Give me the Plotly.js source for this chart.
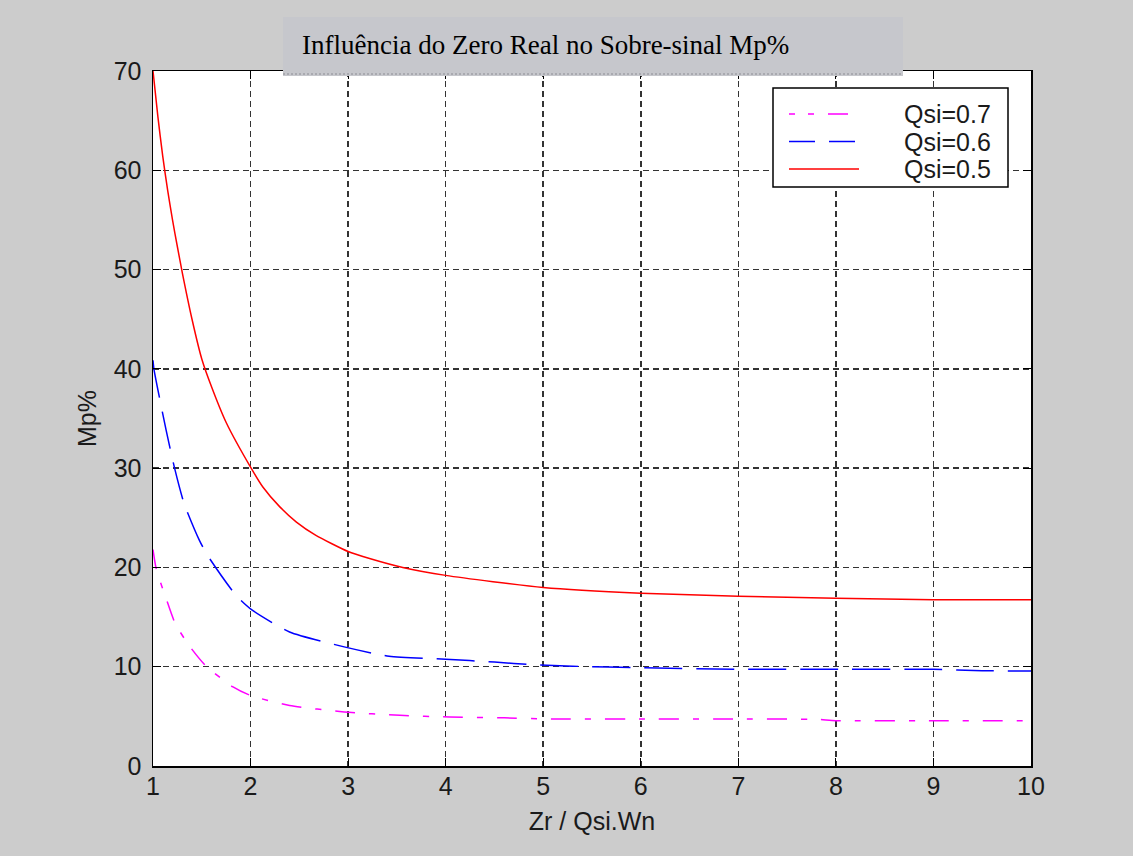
<!DOCTYPE html>
<html>
<head>
<meta charset="utf-8">
<script src="https://cdn.plot.ly/plotly-3.0.1.min.js"></script>
<style>html,body{margin:0;padding:0;background:#cccccc;}#chart{width:1133px;height:856px;}</style>
</head>
<body>
<div id="chart"></div>
<script>
// ---- data ----
const seriesNames = ["Qsi=0.7", "Qsi=0.6", "Qsi=0.5"];

const xQ07 = [1, 1.03, 1.08, 1.13, 1.23, 1.38, 1.54, 1.82, 2.0, 2.4, 2.96, 3.53, 4.04, 4.6, 5, 6, 7, 7.8, 8, 9, 10];
const yQ07 = [21.8, 20.0, 18.4, 17.0, 14.3, 12.0, 10.1, 7.96, 7.1, 6.1, 5.44, 5.1, 4.93, 4.85, 4.75, 4.73, 4.73, 4.7, 4.57, 4.57, 4.57];

const xQ06 = [1, 1.01, 1.135, 1.22, 1.32, 1.477, 1.56, 1.85, 2.01, 2.4, 2.96, 3.42, 4.0, 4.5, 4.9, 5.3, 6, 7, 8, 9, 9.5, 10];
const yQ06 = [40.86, 39.95, 33.8, 30.05, 26.4, 22.7, 21.2, 17.2, 15.75, 13.5, 12.0, 11.05, 10.75, 10.47, 10.2, 10.05, 9.9, 9.74, 9.74, 9.74, 9.6, 9.57];

const xQ05 = [1, 1.05, 1.1, 1.15, 1.2, 1.25, 1.3, 1.4, 1.5, 1.6, 1.75, 2.0, 2.126, 2.3, 2.47, 2.67, 3.0, 3.22, 3.56, 4, 5, 6, 7, 8, 9, 10];
const yQ05 = [70, 65.4, 61.4, 58.0, 55.0, 52.3, 49.7, 45.0, 41.0, 38.2, 34.6, 30.1, 28.1, 26.1, 24.57, 23.23, 21.6, 20.9, 20.0, 19.2, 17.97, 17.4, 17.1, 16.9, 16.75, 16.75];

const xTicks = [1, 2, 3, 4, 5, 6, 7, 8, 9, 10];
const yTicks = [0, 10, 20, 30, 40, 50, 60, 70];

const titleText = "Influência do Zero Real no Sobre-sinal Mp%";
const xTitle = "Zr / Qsi.Wn";
const yTitle = "Mp%";

// ---- styles ----
const colors = ["#ff00ff", "#0000ff", "#ff0000"];
const dashes = ["20px,14px,6px,14px", "38px,14px", "solid"];

const M = {l: 153, r: 102, t: 71, b: 90};
const W = 1133, H = 856;
const pw = W - M.l - M.r, ph = H - M.t - M.b;
const px = p => (p - M.l) / pw;
const py = p => (H - M.b - p) / ph;

const xs = [xQ07, xQ06, xQ05];
const ys = [yQ07, yQ06, yQ05];
const traces = seriesNames.map((n, i) => ({
  x: xs[i], y: ys[i], name: n, type: "scatter", mode: "lines",
  line: {color: colors[i], width: 1.5, dash: dashes[i], shape: "spline", smoothing: 0.6},
  showlegend: false, hoverinfo: "skip"
}));

const shapes = [];
const annotations = [];
// title box
shapes.push({type: "rect", xref: "paper", yref: "paper", layer: "above",
  x0: px(283), x1: px(903), y0: py(76), y1: py(17),
  fillcolor: "#c6c7cc", line: {width: 0}});
shapes.push({type: "line", xref: "paper", yref: "paper", layer: "above",
  x0: px(283), x1: px(903), y0: py(74), y1: py(74),
  line: {color: "#a9aab0", width: 2, dash: "2px,2px"}});
annotations.push({xref: "paper", yref: "paper", x: px(300), y: py(45), xanchor: "left", yanchor: "middle",
  text: titleText, showarrow: false, font: {family: "Liberation Serif, Times New Roman, serif", size: 27, color: "#000"}});

// legend box
shapes.push({type: "rect", xref: "paper", yref: "paper", layer: "above",
  x0: px(773), x1: px(1008), y0: py(187), y1: py(88),
  fillcolor: "#ffffff", line: {color: "#000", width: 1.5}});
const legY = [114, 141.5, 169];
seriesNames.forEach((n, i) => {
  shapes.push({type: "line", xref: "paper", yref: "paper", layer: "above",
    x0: px(789), x1: px(859), y0: py(legY[i]), y1: py(legY[i]),
    line: {color: colors[i], width: 1.5, dash: i === 0 ? "6px,13px,6px,14px,20px,20px" : (i === 1 ? "26px,14px" : "solid")}});
  annotations.push({xref: "paper", yref: "paper", x: px(993), y: py(legY[i]), xanchor: "right", yanchor: "middle",
    text: n, showarrow: false, font: {family: "Liberation Sans, Arial, sans-serif", size: 25, color: "#1a1a1a"}});
});

const axisCommon = {
  showline: true, linecolor: "#000", linewidth: 1.5, mirror: "ticks",
  ticks: "inside", ticklen: 8, tickwidth: 1, tickcolor: "#000",
  showgrid: true, gridcolor: "#333333", gridwidth: 1.5, griddash: "6px,4px",
  zeroline: false, tickfont: {family: "Liberation Sans, Arial, sans-serif", size: 25, color: "#1a1a1a"},
  fixedrange: true
};

const layout = {
  width: W, height: H, autosize: false, margin: M,
  paper_bgcolor: "#cccccc", plot_bgcolor: "#ffffff",
  showlegend: false,
  xaxis: Object.assign({}, axisCommon, {
    range: [1, 10], tickvals: xTicks, ticktext: xTicks.map(String), ticklabelstandoff: -3,
    title: {text: xTitle, standoff: 14, font: {family: "Liberation Sans, Arial, sans-serif", size: 25, color: "#1a1a1a"}}
  }),
  yaxis: Object.assign({}, axisCommon, {
    range: [0, 70], tickvals: yTicks, ticktext: yTicks.map(String), ticklabelstandoff: 5,
    title: {text: yTitle, standoff: 10, font: {family: "Liberation Sans, Arial, sans-serif", size: 25, color: "#1a1a1a"}}
  }),
  shapes: shapes, annotations: annotations
};

Plotly.newPlot("chart", traces, layout, {displayModeBar: false, staticPlot: true});
</script>
</body>
</html>
